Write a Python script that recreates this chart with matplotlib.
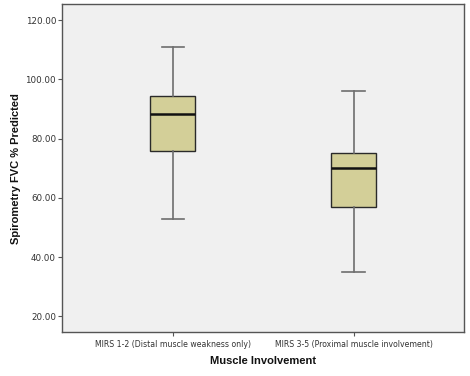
import matplotlib
matplotlib.use("Agg")
import matplotlib.pyplot as plt

categories = ["MIRS 1-2 (Distal muscle weakness only)", "MIRS 3-5 (Proximal muscle involvement)"]
whisker_low = [53.0, 35.0]
q1 = [76.0, 57.0]
median = [88.5, 70.0]
q3 = [94.5, 75.0]
whisker_high = [111.0, 96.0]
yticks = [20, 40, 60, 80, 100, 120]

plt.rcParams['font.family'] = ['DejaVu Sans']
fig = plt.figure(figsize=(4.7, 3.76), dpi=100)
ax = fig.add_axes([62.3/470, 1-332.3/376, 402/470, 328.3/376])
ax.set_facecolor('#F0F0F0')

stats = []
for i, c in enumerate(categories):
    stats.append(dict(label=c, whislo=whisker_low[i], q1=q1[i], med=median[i],
                      q3=q3[i], whishi=whisker_high[i], fliers=[]))

ax.bxp(stats, positions=[1, 2], widths=0.249, capwidths=0.125, patch_artist=True,
       showfliers=False,
       boxprops=dict(facecolor='#D3CF98', edgecolor='#2a2a2a', linewidth=1.0),
       medianprops=dict(color='#111111', linewidth=1.8),
       whiskerprops=dict(color='#6e6e6e', linewidth=1.2),
       capprops=dict(color='#6e6e6e', linewidth=1.2))

ax.set_xlim(0.389, 2.611)
ax.set_ylim(14.6, 125.5)
ax.set_yticks(yticks)
ax.set_yticklabels([f"{v:.2f}" for v in yticks])
ax.tick_params(axis='both', colors='#555555', labelcolor='#333333',
               length=3, width=0.8, pad=1.5)
ax.tick_params(axis='y', labelsize=6.3)
ax.tick_params(axis='x', labelsize=5.6, pad=2.5)
for s in ax.spines.values():
    s.set_color('#555555')
    s.set_linewidth(1.0)

ax.set_ylabel("Spirometry FVC % Predicted", fontsize=8.0, fontweight='bold',
              family='Liberation Sans', color='#111111', labelpad=3)
ax.set_xlabel("Muscle Involvement", fontsize=8.0, fontweight='bold',
              family='Liberation Sans', color='#111111', labelpad=5)

fig.savefig("out.png", dpi=100, facecolor='white')
